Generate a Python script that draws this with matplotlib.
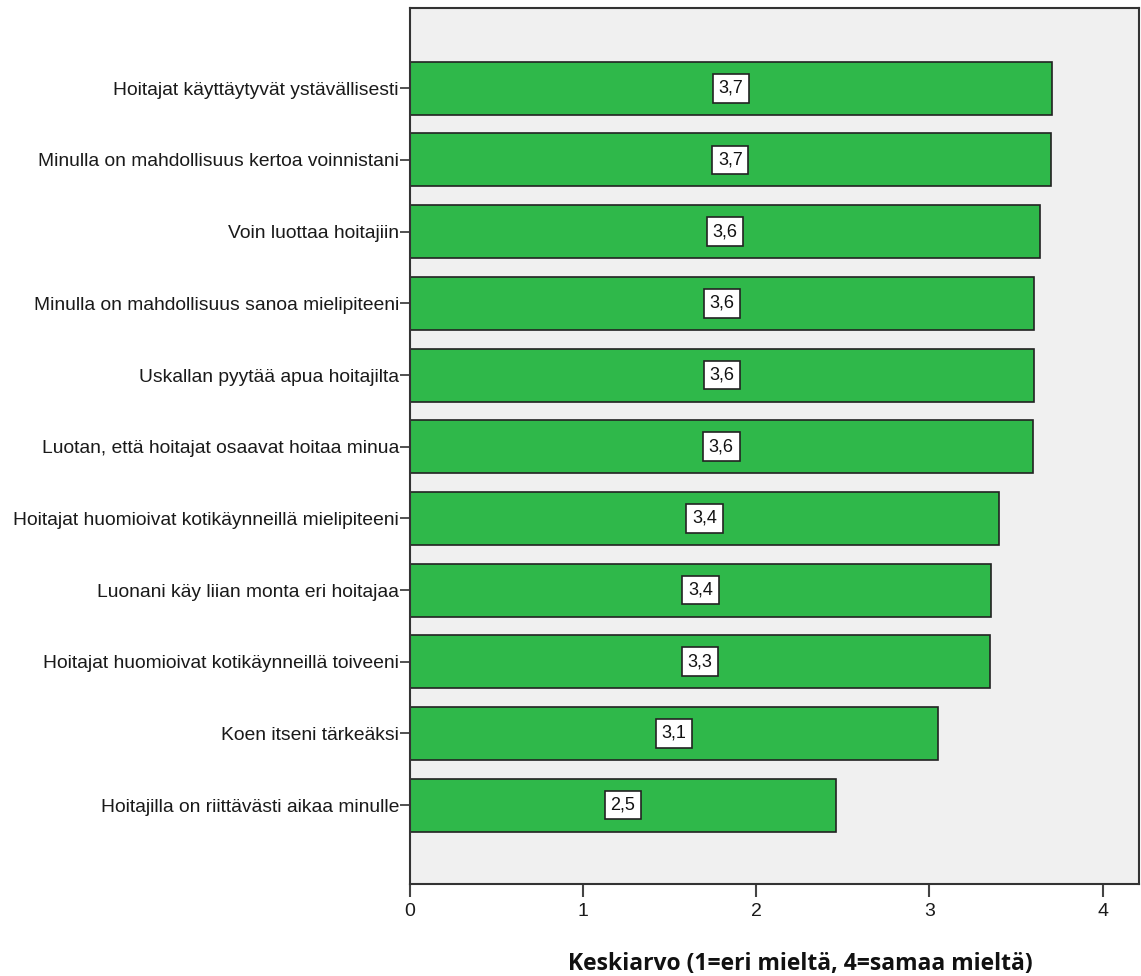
import matplotlib
matplotlib.use("Agg")
import matplotlib.pyplot as plt
import numpy as np

categories = [
    "Hoitajat käyttäytyvät ystävällisesti",
    "Minulla on mahdollisuus kertoa voinnistani",
    "Voin luottaa hoitajiin",
    "Minulla on mahdollisuus sanoa mielipiteeni",
    "Uskallan pyytää apua hoitajilta",
    "Luotan, että hoitajat osaavat hoitaa minua",
    "Hoitajat huomioivat kotikäynneillä mielipiteeni",
    "Luonani käy liian monta eri hoitajaa",
    "Hoitajat huomioivat kotikäynneillä toiveeni",
    "Koen itseni tärkeäksi",
    "Hoitajilla on riittävästi aikaa minulle",
]
values = [3.71, 3.70, 3.637, 3.605, 3.603, 3.595, 3.40, 3.355, 3.348, 3.052, 2.458]
xticks = [0, 1, 2, 3, 4]
xlabel = "Keskiarvo (1=eri mieltä, 4=samaa mieltä)"

fig = plt.figure(figsize=(11.41, 9.76), dpi=100)
ax = fig.add_axes([410 / 1141, 1 - 884 / 976, 729 / 1141, 876 / 976])
ax.set_facecolor("#f0f0f0")

y = np.arange(len(categories))
ax.barh(y, values, height=0.74, color="#2fb84a", edgecolor="#222222", linewidth=1.2, zorder=2)

for yi, v in zip(y, values):
    ax.text(v / 2, yi, f"{v:.1f}".replace(".", ","), ha="center", va="center",
            fontsize=13, family="Liberation Sans", color="#111111", zorder=3,
            bbox=dict(boxstyle="square,pad=0.32", facecolor="white", edgecolor="#222222", linewidth=1.2))

ax.set_ylim(len(categories) - 1 + 1.10, -1.12)
ax.set_xlim(0, 4.21)
ax.set_yticks(y)
ax.set_yticklabels(categories, fontsize=13.9, family="Liberation Sans", color="#1a1a1a")
ax.set_xticks(xticks)
ax.set_xticklabels([str(t) for t in xticks], fontsize=14, family="Liberation Sans", color="#1a1a1a")
ax.tick_params(axis="y", length=7, width=1.2, color="#333333", pad=1)
ax.tick_params(axis="x", length=9, width=1.5, color="#444444", pad=5)
for s in ax.spines.values():
    s.set_color("#333333")
    s.set_linewidth(1.5)

fig.text(800 / 1141, 1 - 970 / 976, xlabel, ha="center", va="baseline",
         fontsize=16.5, fontweight="bold", family="Open Sans", color="#111111")

fig.savefig("out.png", dpi=100)
